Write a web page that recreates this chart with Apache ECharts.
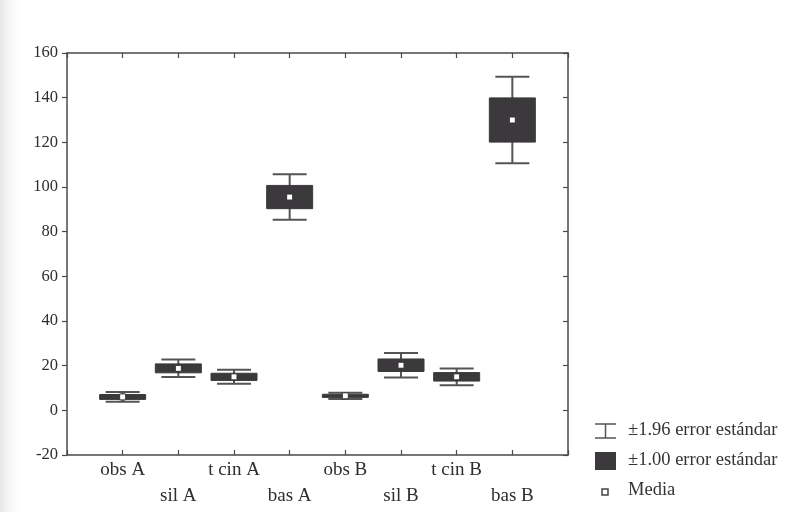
<!DOCTYPE html>
<html>
<head>
<meta charset="utf-8">
<script src="https://cdn.jsdelivr.net/npm/echarts@6/dist/echarts.min.js"></script>
<style>
  html, body { margin: 0; padding: 0; background: #ffffff; }
  #chart { width: 787px; height: 512px; }
</style>
</head>
<body>
<div id="chart"></div>
<script>
// Group labels along the horizontal axis
const categories = ['obs A', 'sil A', 't cin A', 'bas A', 'obs B', 'sil B', 't cin B', 'bas B'];
// Group means
const means = [6.0, 18.8, 15.0, 95.5, 6.5, 20.2, 15.0, 130.0];
// Standard error of each mean
const stdErrors = [1.1, 2.0, 1.6, 5.2, 0.7, 2.8, 1.9, 9.9];
// Vertical axis tick values
const yTicks = [-20, 0, 20, 40, 60, 80, 100, 120, 140, 160];

const legendLabels = ['±1.96 error estándar', '±1.00 error estándar', 'Media'];

const FONT = '"Liberation Serif", "DejaVu Serif", serif';
const BOX = '#3b393b';
const LINE = '#545454';

const GRID = { left: 67, right: 219, top: 53, bottom: 57 };
const GRID_WIDTH = 787 - GRID.left - GRID.right;

const seriesData = categories.map((c, i) => [i + 1, means[i], stdErrors[i]]);

function renderBox(params, api) {
  const x = api.value(0);
  const m = api.value(1);
  const se = api.value(2);
  const ci = 1.96 * se;
  const pMean = api.coord([x, m]);
  const pHi = api.coord([x, m + ci]);
  const pLo = api.coord([x, m - ci]);
  const pBoxHi = api.coord([x, m + se]);
  const pBoxLo = api.coord([x, m - se]);
  const cx = pMean[0];
  const boxHalf = 23;
  const capHalf = 17;
  const lineStyle = { stroke: LINE, lineWidth: 2 };
  return {
    type: 'group',
    children: [
      { type: 'line', shape: { x1: cx, y1: pHi[1], x2: cx, y2: pLo[1] }, style: lineStyle },
      { type: 'line', shape: { x1: cx - capHalf, y1: pHi[1], x2: cx + capHalf, y2: pHi[1] }, style: lineStyle },
      { type: 'line', shape: { x1: cx - capHalf, y1: pLo[1], x2: cx + capHalf, y2: pLo[1] }, style: lineStyle },
      { type: 'rect', shape: { x: cx - boxHalf, y: pBoxHi[1], width: boxHalf * 2, height: pBoxLo[1] - pBoxHi[1] },
        style: { fill: BOX, stroke: BOX, lineWidth: 1 } },
      { type: 'rect', shape: { x: cx - 3, y: pMean[1] - 3, width: 6, height: 6 },
        style: { fill: '#ffffff', stroke: '#333333', lineWidth: 1 } }
    ]
  };
}

const chart = echarts.init(document.getElementById('chart'), null, { renderer: 'canvas' });

const TICK_LEN = 5;
const axisLineStyle = { show: true, onZero: false, lineStyle: { color: '#4a4a4a', width: 1.5 } };
const tickStyle = { show: true, inside: true, length: TICK_LEN, lineStyle: { color: '#4a4a4a', width: 1.2 } };
const yRange = { type: 'value', min: yTicks[0], max: yTicks[yTicks.length - 1], interval: 20 };
const xRange = { type: 'value', min: 0, max: 9, interval: 1 };

chart.setOption({
  backgroundColor: '#ffffff',
  animation: false,
  grid: GRID,
  xAxis: [
    {
      ...xRange, position: 'bottom',
      axisLine: axisLineStyle, axisTick: tickStyle, splitLine: { show: false },
      axisLabel: {
        margin: 2,
        fontFamily: FONT, fontSize: 19, color: '#2e2e2e', lineHeight: 26,
        formatter: v => {
          const i = v - 1;
          if (i < 0 || i >= categories.length) return '';
          return i % 2 === 1 ? '\n' + categories[i] : categories[i];
        }
      }
    },
    {
      ...xRange, position: 'top',
      axisLine: axisLineStyle, axisTick: tickStyle, splitLine: { show: false },
      axisLabel: { show: false }
    }
  ],
  yAxis: [
    {
      // value labels and left frame edge
      ...yRange, position: 'left',
      axisLine: axisLineStyle, axisTick: { show: false }, splitLine: { show: false },
      axisLabel: { margin: 9, fontFamily: FONT, fontSize: 16.5, color: '#2e2e2e' }
    },
    {
      // right frame edge with inward ticks
      ...yRange, position: 'right',
      axisLine: axisLineStyle, axisTick: tickStyle, splitLine: { show: false },
      axisLabel: { show: false }
    },
    {
      // ticks along the left frame edge
      ...yRange, position: 'right', offset: -GRID_WIDTH,
      axisLine: { show: false, onZero: false },
      axisTick: { show: true, inside: true, length: TICK_LEN, lineStyle: { color: '#4a4a4a', width: 1.2 } },
      splitLine: { show: false },
      axisLabel: { show: false }
    }
  ],
  series: [
    {
      type: 'custom',
      xAxisIndex: 0, yAxisIndex: 0,
      renderItem: renderBox,
      data: seriesData,
      z: 5
    }
  ],
  graphic: [
    // faint shading along the left margin of the page
    {
      type: 'rect', left: 0, top: 0, z: -10, silent: true,
      shape: { width: 26, height: 512 },
      style: {
        fill: new echarts.graphic.LinearGradient(0, 0, 1, 0, [
          { offset: 0, color: '#e6e6ea' }, { offset: 1, color: 'rgba(255,255,255,0)' }
        ])
      }
    },
    // legend: whisker icon
    { type: 'line', shape: { x1: 595, y1: 424, x2: 616, y2: 424 }, style: { stroke: LINE, lineWidth: 1.5 } },
    { type: 'line', shape: { x1: 605.5, y1: 424, x2: 605.5, y2: 438 }, style: { stroke: LINE, lineWidth: 1.5 } },
    { type: 'line', shape: { x1: 595, y1: 438, x2: 616, y2: 438 }, style: { stroke: LINE, lineWidth: 1.5 } },
    { type: 'text', left: 628, top: 421, style: { text: legendLabels[0], font: '18.5px ' + FONT, fill: '#333' } },
    // legend: box icon
    { type: 'rect', shape: { x: 595, y: 452, width: 21, height: 18 }, style: { fill: BOX } },
    { type: 'text', left: 628, top: 451, style: { text: legendLabels[1], font: '18.5px ' + FONT, fill: '#333' } },
    // legend: mean icon
    { type: 'rect', shape: { x: 602, y: 489, width: 6, height: 6 }, style: { fill: '#fff', stroke: '#444', lineWidth: 1.5 } },
    { type: 'text', left: 628, top: 481, style: { text: legendLabels[2], font: '18.5px ' + FONT, fill: '#333' } }
  ]
});
</script>
</body>
</html>
